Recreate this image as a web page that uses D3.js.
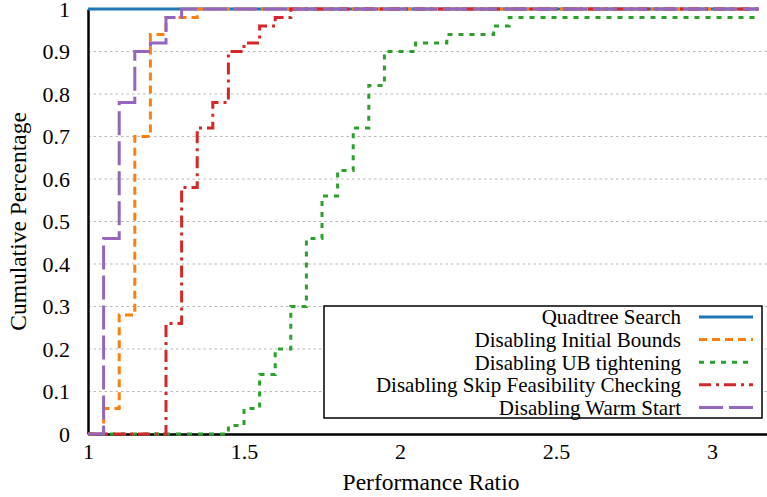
<!DOCTYPE html>
<html>
<head>
<meta charset="utf-8">
<script src="https://cdn.jsdelivr.net/npm/d3@7"></script>
<style>
  body { margin: 0; background: #fff; }
  svg text { font-family: "Liberation Serif", "DejaVu Serif", serif; fill: #000; }
</style>
</head>
<body>
<div class="chart"></div>
<script>
// series names, in legend order
var seriesNames = ["Quadtree Search", "Disabling Initial Bounds", "Disabling UB tightening",
    "Disabling Skip Feasibility Checking", "Disabling Warm Start"];

// step points (value holds from x until the next x)
var quadtreeX = [1, 3.15];
var quadtreeY = [1, 1];

var initBoundsX = [1, 1.05, 1.1, 1.15, 1.2, 1.25, 1.35, 3.15];
var initBoundsY = [0, 0.06, 0.28, 0.70, 0.94, 0.98, 1, 1];

var ubTightX = [1, 1.45, 1.5, 1.55, 1.6, 1.65, 1.7, 1.75, 1.8, 1.85, 1.9, 1.95, 2.05, 2.15, 2.3, 2.35, 3.15];
var ubTightY = [0, 0.02, 0.06, 0.14, 0.2, 0.3, 0.46, 0.56, 0.62, 0.72, 0.82, 0.9, 0.92, 0.94, 0.96, 0.98, 0.98];

var skipFeasX = [1, 1.25, 1.3, 1.35, 1.4, 1.45, 1.5, 1.55, 1.6, 1.65, 3.15];
var skipFeasY = [0, 0.26, 0.58, 0.72, 0.78, 0.9, 0.92, 0.96, 0.98, 1, 1];

var warmStartX = [1, 1.05, 1.1, 1.15, 1.2, 1.25, 1.3, 3.15];
var warmStartY = [0, 0.46, 0.78, 0.9, 0.92, 0.98, 1, 1];

var xTicks = [1, 1.5, 2, 2.5, 3];
var yTicks = [0, 0.1, 0.2, 0.3, 0.4, 0.5, 0.6, 0.7, 0.8, 0.9, 1];

var colors = ["#1f77b4", "#ff7f0e", "#2ca02c", "#d62728", "#9467bd"];
var dashes = [null, "8,5", "5,6", "12,5,3,5", "24,6"];

var width = 767, height = 497;
var plotLeft = 88, plotRight = 767, plotTop = 9, plotBottom = 434;

var svg = d3.select(".chart").append("svg")
    .attr("width", width)
    .attr("height", height);

var x = d3.scaleLinear().domain([1, 1 + (plotRight - plotLeft) / 312]).range([plotLeft, plotRight]);
var y = d3.scaleLinear().domain([0, 1]).range([plotBottom, plotTop]);

// dotted horizontal grid
svg.append("g")
    .selectAll("line")
    .data(yTicks.filter(function (d) { return d > 0 && d < 1; }))
    .enter().append("line")
    .attr("x1", plotLeft).attr("x2", plotRight)
    .attr("y1", function (d) { return y(d); })
    .attr("y2", function (d) { return y(d); })
    .attr("stroke", "#b8b8b8")
    .attr("stroke-width", 1.2)
    .attr("stroke-dasharray", "2.5,3");

// axes
var xAxis = svg.append("g")
    .attr("transform", "translate(0," + plotBottom + ")")
    .call(d3.axisBottom(x).tickValues(xTicks).tickSize(0).tickPadding(9)
        .tickFormat(function (d) { return String(d); }));
xAxis.select(".domain").attr("stroke", "#000").attr("stroke-width", 2.5);
xAxis.selectAll("text").style("font-size", "22px").attr("font-family", null);

var yAxis = svg.append("g")
    .attr("transform", "translate(" + plotLeft + ",0)")
    .call(d3.axisLeft(y).tickValues(yTicks).tickSize(0).tickPadding(18)
        .tickFormat(function (d) { return String(d); }));
yAxis.select(".domain").attr("stroke", "#000").attr("stroke-width", 2.5);
yAxis.selectAll("text").style("font-size", "22px").attr("font-family", null);

svg.append("text")
    .attr("x", 431)
    .attr("y", 490)
    .attr("text-anchor", "middle")
    .style("font-size", "23.5px")
    .text("Performance Ratio");

svg.append("text")
    .attr("transform", "translate(26," + ((plotTop + plotBottom) / 2) + ") rotate(-90)")
    .attr("text-anchor", "middle")
    .style("font-size", "23.5px")
    .text("Cumulative Percentage");

// series
var series = [
    {xs: quadtreeX, ys: quadtreeY},
    {xs: initBoundsX, ys: initBoundsY},
    {xs: ubTightX, ys: ubTightY},
    {xs: skipFeasX, ys: skipFeasY},
    {xs: warmStartX, ys: warmStartY}
];

var line = d3.line()
    .x(function (d) { return x(d[0]); })
    .y(function (d) { return y(d[1]); })
    .curve(d3.curveStepAfter);

series.forEach(function (s, i) {
    var pts = s.xs.map(function (v, j) { return [v, s.ys[j]]; });
    svg.append("path")
        .attr("d", line(pts))
        .attr("fill", "none")
        .attr("stroke", colors[i])
        .attr("stroke-width", 3)
        .attr("stroke-dasharray", dashes[i]);
});

// legend
var lg = svg.append("g");
lg.append("rect")
    .attr("x", 324).attr("y", 306)
    .attr("width", 438).attr("height", 112)
    .attr("fill", "#fff")
    .attr("stroke", "#000")
    .attr("stroke-width", 1.5);

seriesNames.forEach(function (name, i) {
    var cy = 317 + i * 22.6;
    lg.append("text")
        .attr("x", 681).attr("y", cy)
        .attr("dy", "0.35em")
        .attr("text-anchor", "end")
        .style("font-size", "21px")
        .text(name);
    lg.append("line")
        .attr("x1", 699).attr("x2", 753)
        .attr("y1", cy).attr("y2", cy)
        .attr("stroke", colors[i])
        .attr("stroke-width", 3)
        .attr("stroke-dasharray", dashes[i]);
});
</script>
</body>
</html>
